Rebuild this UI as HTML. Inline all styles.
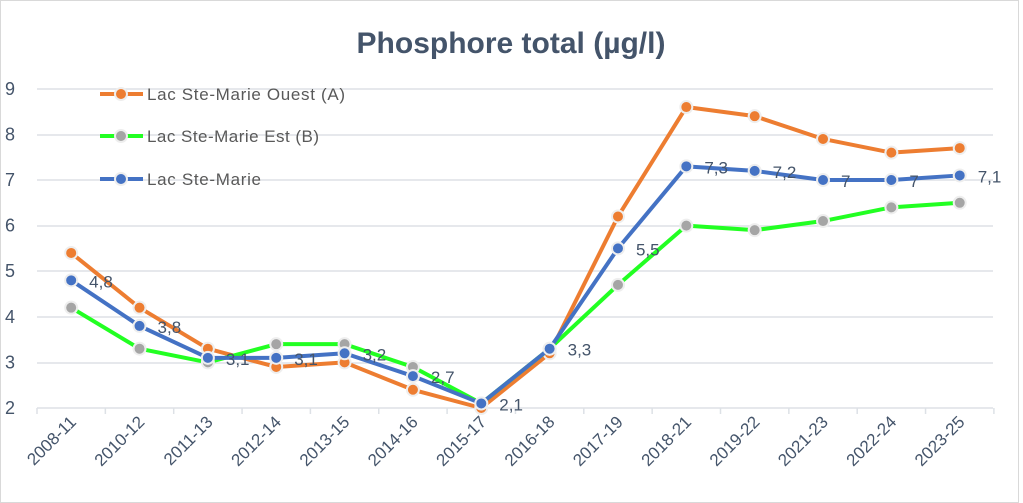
<!DOCTYPE html>
<html><head><meta charset="utf-8"><style>
html,body{margin:0;padding:0;background:#fff}
svg{display:block}
text{font-family:"Liberation Sans",sans-serif}
</style></head><body>
<svg width="1023" height="503" viewBox="0 0 1023 503" xmlns="http://www.w3.org/2000/svg">
<rect x="0.5" y="0.5" width="1018" height="502" fill="#fff" stroke="#d9d9d9"/>
<text x="511" y="53" text-anchor="middle" font-size="30" font-weight="bold" fill="#44546a">Phosphore total (µg/l)</text>
<g stroke="#dde1e6" stroke-width="1.5">
<line x1="37" x2="993" y1="89" y2="89"/><line x1="37" x2="993" y1="135" y2="135"/>
<line x1="37" x2="993" y1="180" y2="180"/><line x1="37" x2="993" y1="226" y2="226"/>
<line x1="37" x2="993" y1="271" y2="271"/><line x1="37" x2="993" y1="317" y2="317"/>
<line x1="37" x2="993" y1="363" y2="363"/><line x1="37" x2="993" y1="408" y2="408"/>
</g>
<g stroke="#dde1e6" stroke-width="1.5" id="ticks"></g>
<g font-size="18" fill="#44546a" id="yl"></g>
<g font-size="17" fill="#44546a" id="xl"></g>
<g id="series"></g>
<g font-size="17" fill="#44546a" id="dl"></g>
<g font-size="17" fill="#595959">
<line x1="100" x2="143" y1="94" y2="94" stroke="#ed7d31" stroke-width="4"/><circle cx="121" cy="94" r="6" fill="#ed7d31" stroke="#eee" stroke-width="2"/><text x="147" y="100" textLength="198">Lac Ste-Marie Ouest (A)</text>
<line x1="100" x2="143" y1="136" y2="136" stroke="#22ff22" stroke-width="4"/><circle cx="121" cy="136" r="6" fill="#a5a5a5" stroke="#eee" stroke-width="2"/><text x="147" y="142" textLength="172">Lac Ste-Marie Est (B)</text>
<line x1="100" x2="143" y1="179" y2="179" stroke="#4472c4" stroke-width="4"/><circle cx="121" cy="179" r="6" fill="#4472c4" stroke="#eee" stroke-width="2"/><text x="147" y="185" textLength="114">Lac Ste-Marie</text>
</g>
</svg>
<script>
const NS="http://www.w3.org/2000/svg";
function el(p,t,a,txt){const e=document.createElementNS(NS,t);for(const k in a)e.setAttribute(k,a[k]);if(txt!==undefined)e.textContent=txt;document.getElementById(p).appendChild(e);return e;}
const cats=["2008-11","2010-12","2011-13","2012-14","2013-15","2014-16","2015-17","2016-18","2017-19","2018-21","2019-22","2021-23","2022-24","2023-25"];
const step=68.35,x0=37;
const X=i=>x0+step*(i+0.5), Y=v=>408-(v-2)*45.6;
for(let i=0;i<=14;i++)el("ticks","line",{x1:x0+step*i,x2:x0+step*i,y1:408,y2:414});
for(let v=2;v<=9;v++)el("yl","text",{x:5,y:Y(v)+6},v);
cats.forEach((c,i)=>{el("xl","text",{x:X(i)+6,y:423,"text-anchor":"end",transform:`rotate(-45 ${X(i)+6} 423)`},c);});
const A=[5.4,4.2,3.3,2.9,3.0,2.4,2.0,3.2,6.2,8.6,8.4,7.9,7.6,7.7];
const B=[4.2,3.3,3.0,3.4,3.4,2.9,2.1,3.3,4.7,6.0,5.9,6.1,6.4,6.5];
const C=[4.8,3.8,3.1,3.1,3.2,2.7,2.1,3.3,5.5,7.3,7.2,7.0,7.0,7.1];
function ser(d,lc,mc){el("series","polyline",{points:d.map((v,i)=>X(i)+","+Y(v)).join(" "),fill:"none",stroke:lc,"stroke-width":4,"stroke-linejoin":"round"});
d.forEach((v,i)=>el("series","circle",{cx:X(i),cy:Y(v),r:6,fill:mc,stroke:"#eee","stroke-width":2}));}
ser(A,"#ed7d31","#ed7d31");ser(B,"#22ff22","#a5a5a5");ser(C,"#4472c4","#4472c4");
C.forEach((v,i)=>el("dl","text",{x:X(i)+18,y:Y(v)+7},String(v).replace(".",",")));
</script>
</body></html>
